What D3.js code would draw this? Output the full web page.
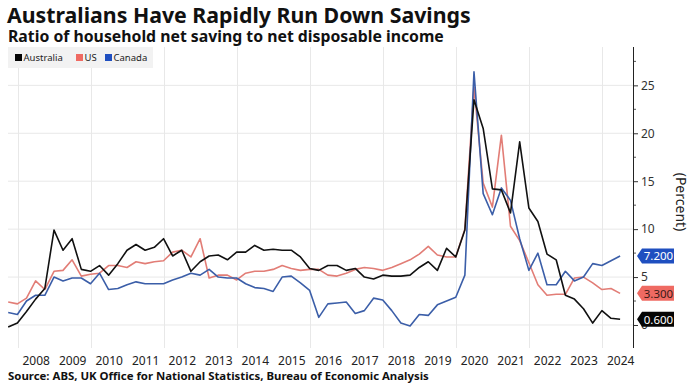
<!DOCTYPE html>
<html>
<head>
<meta charset="utf-8">
<script src="https://cdn.jsdelivr.net/npm/d3@7"></script>
<style>
  body { margin: 0; background: #fff; }
  svg { display: block; }
  text { font-family: "Noto Sans", "DejaVu Sans", sans-serif; }
</style>
</head>
<body>
<script>
// quarter ends, 2007 Q3 .. 2024 Q2
var quarters = [
  "2007Q3", "2007Q4",
  "2008Q1", "2008Q2", "2008Q3", "2008Q4",
  "2009Q1", "2009Q2", "2009Q3", "2009Q4",
  "2010Q1", "2010Q2", "2010Q3", "2010Q4",
  "2011Q1", "2011Q2", "2011Q3", "2011Q4",
  "2012Q1", "2012Q2", "2012Q3", "2012Q4",
  "2013Q1", "2013Q2", "2013Q3", "2013Q4",
  "2014Q1", "2014Q2", "2014Q3", "2014Q4",
  "2015Q1", "2015Q2", "2015Q3", "2015Q4",
  "2016Q1", "2016Q2", "2016Q3", "2016Q4",
  "2017Q1", "2017Q2", "2017Q3", "2017Q4",
  "2018Q1", "2018Q2", "2018Q3", "2018Q4",
  "2019Q1", "2019Q2", "2019Q3", "2019Q4",
  "2020Q1", "2020Q2", "2020Q3", "2020Q4",
  "2021Q1", "2021Q2", "2021Q3", "2021Q4",
  "2022Q1", "2022Q2", "2022Q3", "2022Q4",
  "2023Q1", "2023Q2", "2023Q3", "2023Q4",
  "2024Q1", "2024Q2"
];

var australia = [
  -0.2, 0.2,
  1.4, 2.7, 3.8, 9.9,
  7.8, 9.0, 5.8, 5.6,
  6.2, 5.2, 6.4, 7.8,
  8.4, 7.8, 8.1, 9.0,
  7.2, 7.8, 5.6, 6.6,
  7.2, 7.3, 6.8, 7.6,
  7.6, 8.3, 7.8, 7.9,
  7.8, 7.8, 7.1, 5.9,
  5.7, 6.2, 6.2, 5.7,
  5.9, 5.0, 4.8, 5.2,
  5.1, 5.1, 5.2, 6.0,
  6.6, 5.7, 8.0, 7.1,
  9.9, 23.5, 20.5, 14.2,
  14.1, 11.7, 19.1, 12.2,
  10.8, 7.4, 6.8, 3.1,
  2.7, 1.7, 0.2, 1.5,
  0.7, 0.6
];

var us = [
  2.4, 2.2,
  2.8, 4.6, 3.7, 5.6,
  5.7, 6.8, 5.1, 5.3,
  5.4, 6.2, 6.2, 6.0,
  6.6, 6.4, 6.6, 6.7,
  7.6, 7.8, 7.1, 9.0,
  4.9, 5.2, 5.2, 4.7,
  5.4, 5.6, 5.6, 5.8,
  6.2, 5.9, 5.7, 5.8,
  5.8, 5.2, 5.1, 5.4,
  5.8, 6.0, 5.9, 5.7,
  6.0, 6.4, 6.8, 7.4,
  8.2, 7.3, 7.1, 7.1,
  10.0, 24.8, 14.8, 12.3,
  19.8, 10.3, 8.8, 6.5,
  4.2, 3.1, 3.2, 3.2,
  4.9, 5.0, 4.4, 3.7,
  3.8, 3.3
];

var canada = [
  1.3, 1.1,
  2.5, 3.1, 3.1, 5.0,
  4.6, 4.9, 4.9, 4.3,
  5.4, 3.7, 3.8, 4.2,
  4.5, 4.3, 4.3, 4.3,
  4.7, 5.0, 5.4, 5.2,
  5.8, 5.0, 4.9, 4.9,
  4.3, 3.9, 3.8, 3.5,
  5.0, 5.1, 4.4, 3.6,
  0.8, 2.2, 2.3, 2.4,
  1.2, 1.5, 2.8, 2.6,
  1.5, 0.2, -0.1, 1.1,
  1.0, 2.1, 2.5, 2.9,
  5.2, 26.4, 13.7, 11.5,
  14.3, 13.0, 9.0, 5.7,
  7.5, 4.2, 4.2, 5.6,
  4.6, 5.0, 6.4, 6.2,
  6.7, 7.2
];

var seriesNames = ["Australia", "US", "Canada"];
var yTicks = [0, 5, 10, 15, 20, 25];
var yearLabels = [2008, 2009, 2010, 2011, 2012, 2013, 2014, 2015, 2016,
                  2017, 2018, 2019, 2020, 2021, 2022, 2023, 2024];
var gridYears = [2008, 2010, 2012, 2014, 2016, 2018, 2020, 2022, 2024];

var width = 700;
var height = 389;
// plot box (note: "top" is taken by window.top)
var plotL = 8, plotR = 633, plotT = 47, plotB = 348;

var lineColor = { "Australia": "#111111", "US": "#e27d76", "Canada": "#3b5ea8" };
var boxColor = { "Australia": "#050505", "US": "#ef6a62", "Canada": "#1f4fc0" };
var boxText = { "Australia": "#ffffff", "US": "#3a1a18", "Canada": "#ffffff" };

var values = { "Australia": australia, "US": us, "Canada": canada };

function quarterEnd(q) {
  var yr = +q.slice(0, 4), qn = +q.slice(5);
  return new Date(yr, qn * 3, 0);
}

var svg = d3.select("body")
  .append("svg")
  .attr("width", width)
  .attr("height", height);

svg.append("rect")
  .attr("width", width)
  .attr("height", height)
  .attr("fill", "#ffffff");

// scales
var x = d3.scaleTime()
  .domain([new Date(2008, 0, 1), new Date(2024, 0, 1)])
  .range([17.5, 602]);

var y = d3.scaleLinear()
  .domain([-2.4, 29])
  .range([plotB, plotT]);

// title
svg.append("text")
  .attr("x", 7)
  .attr("y", 23)
  .attr("font-size", 21.3)
  .attr("font-weight", "bold")
  .attr("fill", "#111")
  .text("Australians Have Rapidly Run Down Savings");

svg.append("text")
  .attr("x", 8)
  .attr("y", 42)
  .attr("font-size", 15.8)
  .attr("font-weight", "bold")
  .attr("fill", "#111")
  .text("Ratio of household net saving to net disposable income");

// grid
var grid = svg.append("g").attr("class", "grid");

grid.selectAll(".hgrid")
  .data(yTicks)
  .enter()
  .append("line")
  .attr("x1", plotL)
  .attr("x2", plotR)
  .attr("y1", function (d) { return y(d); })
  .attr("y2", function (d) { return y(d); })
  .attr("stroke", "#e8e8e8")
  .attr("stroke-width", 1);

grid.selectAll(".vgrid")
  .data(gridYears)
  .enter()
  .append("line")
  .attr("x1", function (d) { return Math.round(x(new Date(d, 0, 1))) + 0.5; })
  .attr("x2", function (d) { return Math.round(x(new Date(d, 0, 1))) + 0.5; })
  .attr("y1", plotT)
  .attr("y2", plotB)
  .attr("stroke", "#e8e8e8")
  .attr("stroke-width", 1);

// legend
svg.append("rect")
  .attr("x", 8)
  .attr("y", 47)
  .attr("width", 145)
  .attr("height", 21)
  .attr("fill", "#f2f2f2");

var legendX = [15, 76, 105];
var legend = svg.append("g")
  .selectAll("g")
  .data(seriesNames)
  .enter()
  .append("g")
  .attr("transform", function (d, i) { return "translate(" + legendX[i] + ",54)"; });

legend.append("rect")
  .attr("width", 7)
  .attr("height", 7)
  .attr("fill", function (d) { return boxColor[d]; });

legend.append("text")
  .attr("x", 8.5)
  .attr("y", 7)
  .attr("font-size", 9.5)
  .attr("fill", "#222")
  .text(function (d) { return d; });

// lines
var line = d3.line()
  .x(function (d, i) { return x(quarterEnd(quarters[i])); })
  .y(function (d) { return y(d); });

svg.append("g")
  .selectAll("path")
  .data(["US", "Canada", "Australia"])
  .enter()
  .append("path")
  .attr("d", function (d) { return line(values[d]); })
  .attr("fill", "none")
  .attr("stroke", function (d) { return lineColor[d]; })
  .attr("stroke-width", 1.6)
  .attr("stroke-linejoin", "round");

// right axis
var yAxis = d3.axisRight(y)
  .tickValues(yTicks)
  .tickSize(5)
  .tickPadding(3)
  .tickFormat(d3.format("d"));

var yg = svg.append("g")
  .attr("transform", "translate(" + plotR + ",0)")
  .call(yAxis);

yg.select(".domain").remove();
yg.selectAll("line").attr("stroke", "#333");
yg.selectAll("text")
  .attr("font-family", "Noto Sans, sans-serif")
  .attr("font-size", 12)
  .attr("fill", "#333");

// minor ticks
svg.append("g")
  .selectAll("line")
  .data([2.5, 7.5, 12.5, 17.5, 22.5, 27.5])
  .enter()
  .append("line")
  .attr("x1", plotR)
  .attr("x2", plotR + 3)
  .attr("y1", function (d) { return y(d); })
  .attr("y2", function (d) { return y(d); })
  .attr("stroke", "#555");

svg.append("line")
  .attr("x1", plotR + 0.5)
  .attr("x2", plotR + 0.5)
  .attr("y1", plotT)
  .attr("y2", plotB)
  .attr("stroke", "#222")
  .attr("stroke-width", 1);

svg.append("text")
  .attr("transform", "translate(676,202) rotate(90)")
  .attr("text-anchor", "middle")
  .attr("font-size", 14)
  .attr("fill", "#222")
  .text("(Percent)");

// last value labels
var fmt = d3.format(".3f");
var tags = svg.append("g")
  .selectAll("g")
  .data(seriesNames)
  .enter()
  .append("g")
  .attr("transform", function (d) {
    var v = values[d][values[d].length - 1];
    return "translate(637," + y(v) + ")";
  });

tags.append("path")
  .attr("d", "M0,0 L5,-7.5 L37,-7.5 L37,7.5 L5,7.5 Z")
  .attr("fill", function (d) { return boxColor[d]; });

tags.append("text")
  .attr("x", 21.5)
  .attr("y", 4.3)
  .attr("text-anchor", "middle")
  .attr("font-size", 11.5)
  .attr("fill", function (d) { return boxText[d]; })
  .text(function (d) { return fmt(values[d][values[d].length - 1]); });

// bottom axis, labels at mid year
var xAxis = d3.axisBottom(x)
  .tickValues(yearLabels.map(function (d) { return new Date(d, 6, 1); }))
  .tickSize(0)
  .tickPadding(8)
  .tickFormat(d3.timeFormat("%Y"));

var xg = svg.append("g")
  .attr("transform", "translate(0," + plotB + ")")
  .call(xAxis);

xg.select(".domain").remove();
xg.selectAll("text")
  .attr("font-family", "Noto Sans, sans-serif")
  .attr("font-size", 12)
  .attr("fill", "#222");

// source
svg.append("text")
  .attr("x", 8)
  .attr("y", 380)
  .attr("font-size", 11.4)
  .attr("font-weight", "bold")
  .attr("fill", "#111")
  .text("Source: ABS, UK Office for National Statistics, Bureau of Economic Analysis");
</script>
</body>
</html>
